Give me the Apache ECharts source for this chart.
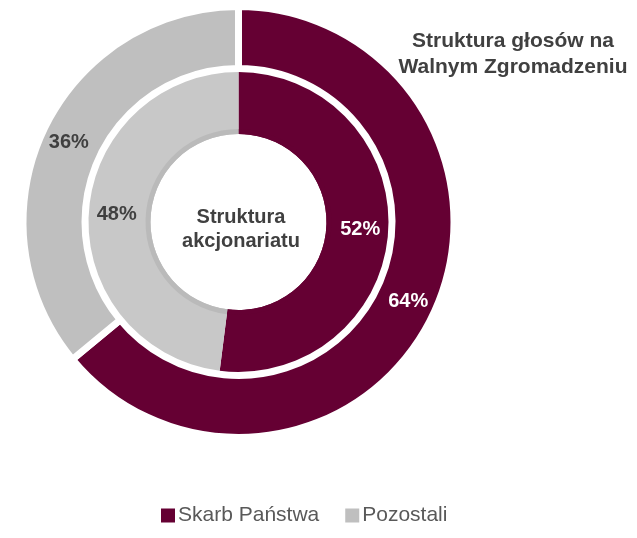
<!DOCTYPE html>
<html lang="pl" style="height: 100%">
<head>
    <meta charset="utf-8">
</head>
<body style="height: 100%; margin: 0; background: #fff">
<div id="main" style="width: 637px; height: 538px"></div>

<script type="text/javascript" src="https://cdn.jsdelivr.net/npm/echarts@6/dist/echarts.min.js"></script>

<script type="text/javascript">
    // dane
    var categories = ['Skarb Państwa', 'Pozostali'];
    var glosy = [64, 36];          // Struktura głosów na Walnym Zgromadzeniu (pierścień zewnętrzny)
    var akcjonariat = [52, 48];    // Struktura akcjonariatu (pierścień wewnętrzny)

    var outerColors = ['#650033', '#bfbfbf'];
    var innerColors = ['#650033', '#c8c8c8'];
    var bevelColors = ['#650033', '#bababa'];
    var labelColors = ['#ffffff', '#404040'];

    var FONT = 'Arial, "Liberation Sans", sans-serif';

    function build(values, colors, withLabel) {
        return values.map(function (v, i) {
            return {
                name: categories[i],
                value: v,
                itemStyle: { color: colors[i] },
                label: { show: withLabel, color: labelColors[i] }
            };
        });
    }

    var chartDom = document.getElementById('main');
    var myChart = echarts.init(chartDom);
    var option;

    option = {
        animation: false,
        legend: {
            data: categories,
            left: 159,
            top: 505,
            padding: 0,
            icon: 'rect',
            itemWidth: 16,
            itemHeight: 16,
            itemGap: 24,
            selectedMode: false,
            textStyle: {
                fontFamily: FONT,
                fontSize: 21,
                color: '#595959',
                padding: [0, 0, 0, -3]
            }
        },
        graphic: [
            {
                type: 'text',
                x: 513,
                y: 54,
                style: {
                    text: 'Struktura głosów na\nWalnym Zgromadzeniu',
                    fill: '#404040',
                    font: 'bold 21px ' + FONT,
                    align: 'center',
                    verticalAlign: 'middle',
                    lineHeight: 26
                }
            },
            {
                type: 'text',
                x: 241,
                y: 229,
                z: 10,
                style: {
                    text: 'Struktura\nakcjonariatu',
                    fill: '#404040',
                    font: 'bold 20px ' + FONT,
                    align: 'center',
                    verticalAlign: 'middle',
                    lineHeight: 24
                }
            }
        ],
        series: [
            {
                name: 'Głosy',
                type: 'pie',
                center: [238.5, 222],
                radius: [153.5, 215.5],
                startAngle: 90,
                clockwise: true,
                silent: true,
                itemStyle: { borderColor: '#ffffff', borderWidth: 7 },
                label: {
                    position: 'inside',
                    formatter: '{c}%',
                    fontFamily: FONT,
                    fontSize: 20,
                    fontWeight: 'bold'
                },
                labelLine: { show: false },
                data: build(glosy, outerColors, true)
            },
            {
                name: 'Akcjonariat',
                type: 'pie',
                center: [238.5, 222],
                radius: [88, 150],
                startAngle: 90,
                clockwise: true,
                silent: true,
                label: {
                    position: 'inside',
                    formatter: '{c}%',
                    fontFamily: FONT,
                    fontSize: 20,
                    fontWeight: 'bold'
                },
                labelLine: { show: false },
                data: build(akcjonariat, innerColors, true)
            },
            {
                name: 'Akcjonariat-cien',
                type: 'pie',
                center: [238.5, 222],
                radius: [88, 93],
                startAngle: 90,
                clockwise: true,
                silent: true,
                label: { show: false },
                labelLine: { show: false },
                data: build(akcjonariat, bevelColors, false)
            }
        ]
    };

    option && myChart.setOption(option);
</script>
</body>
</html>
